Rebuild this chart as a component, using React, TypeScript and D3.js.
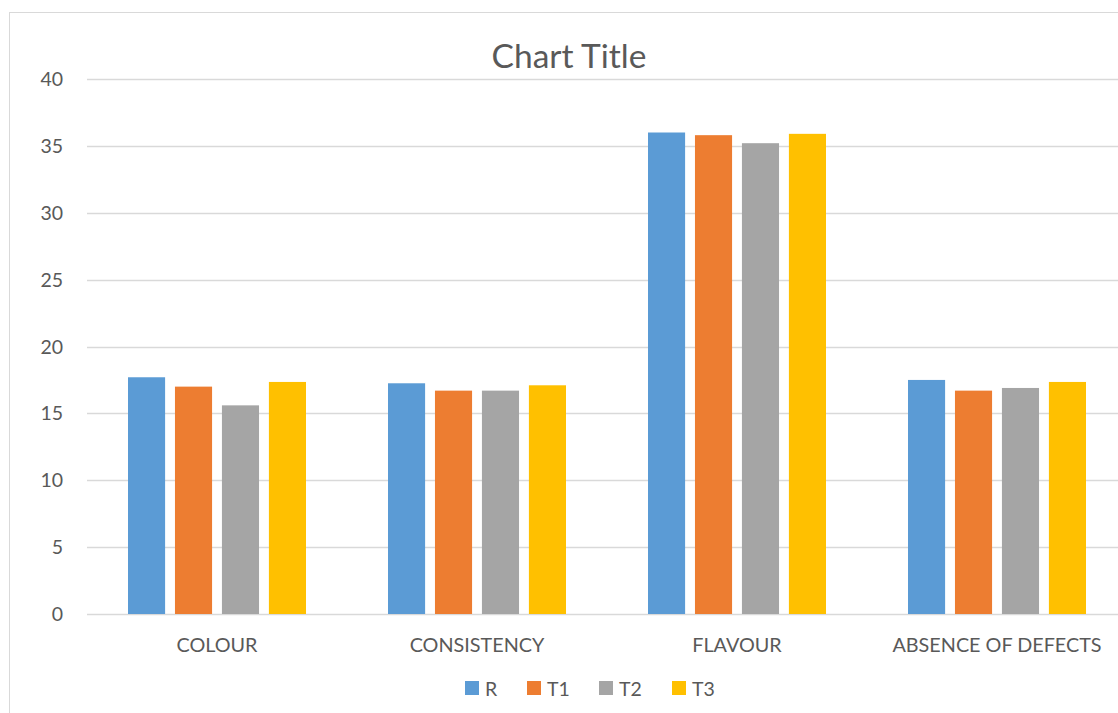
import React, { useEffect, useRef } from "react";
import * as d3 from "d3";

const categories = ["COLOUR", "CONSISTENCY", "FLAVOUR", "ABSENCE OF DEFECTS"];
const seriesNames = ["R", "T1", "T2", "T3"];
const valuesR = [17.7, 17.25, 36.0, 17.5];
const valuesT1 = [17.0, 16.7, 35.8, 16.7];
const valuesT2 = [15.6, 16.7, 35.2, 16.9];
const valuesT3 = [17.35, 17.1, 35.9, 17.35];
const yTicks = [0, 5, 10, 15, 20, 25, 30, 35, 40];
const colors = ["#5B9BD5", "#ED7D31", "#A5A5A5", "#FFC000"];

export default function App() {
  const ref = useRef<SVGSVGElement>(null);

  useEffect(() => {
    const width = 1118;
    const height = 713;
    const font = "Lato, 'Open Sans', sans-serif";
    const margin = { top: 79, left: 87, bottom: 99, right: -9 };
    const iwidth = width - margin.left - margin.right;
    const iheight = height - margin.top - margin.bottom;

    const svg = d3.select(ref.current);
    svg.selectAll("*").remove();
    svg.attr("width", width).attr("height", height);

    svg
      .append("rect")
      .attr("x", 9.5)
      .attr("y", 12.5)
      .attr("width", 1130)
      .attr("height", 720)
      .attr("fill", "white")
      .attr("stroke", "#d9d9d9");

    svg
      .append("text")
      .attr("x", 569)
      .attr("y", 68)
      .attr("text-anchor", "middle")
      .style("font-family", font)
      .style("font-size", "33.5px")
      .style("fill", "#595959")
      .text("Chart Title");

    const g = svg
      .append("g")
      .attr("transform", `translate(${margin.left},${margin.top})`);

    const y = d3.scaleLinear().domain([0, 40]).range([iheight, 0]);
    const x0 = d3
      .scaleBand()
      .domain(categories)
      .range([0, iwidth])
      .paddingInner(0)
      .paddingOuter(0);
    const groupPad = 41;
    const x1 = d3
      .scaleBand()
      .domain(seriesNames)
      .range([groupPad, x0.bandwidth() - groupPad])
      .paddingInner(0.21)
      .paddingOuter(0);

    // gridlines
    g.selectAll("line.grid")
      .data(yTicks)
      .enter()
      .append("line")
      .attr("class", "grid")
      .attr("x1", 0)
      .attr("x2", iwidth)
      .attr("y1", (d) => Math.round(y(d)) + 0.5)
      .attr("y2", (d) => Math.round(y(d)) + 0.5)
      .attr("stroke", "#d9d9d9")
      .attr("stroke-width", 1.3);

    g.selectAll("text.ytick")
      .data(yTicks)
      .enter()
      .append("text")
      .attr("class", "ytick")
      .attr("x", -24)
      .attr("y", (d) => y(d) + 7)
      .attr("text-anchor", "end")
      .style("font-family", font)
      .style("font-size", "19.5px")
      .style("fill", "#595959")
      .text((d) => d);

    const table = seriesNames.map((name, i) => ({
      name,
      color: colors[i],
      values: [valuesR, valuesT1, valuesT2, valuesT3][i],
    }));

    table.forEach((s) => {
      g.selectAll(`rect.bar-${s.name}`)
        .data(categories.map((c, j) => ({ c, v: s.values[j] })))
        .enter()
        .append("rect")
        .attr("class", `bar-${s.name}`)
        .attr("x", (d) => (x0(d.c) ?? 0) + (x1(s.name) ?? 0))
        .attr("y", (d) => y(d.v))
        .attr("width", x1.bandwidth())
        .attr("height", (d) => iheight - y(d.v))
        .attr("fill", s.color);
    });

    g.selectAll("text.xtick")
      .data(categories)
      .enter()
      .append("text")
      .attr("class", "xtick")
      .attr("x", (d) => (x0(d) ?? 0) + x0.bandwidth() / 2)
      .attr("y", iheight + 38)
      .attr("text-anchor", "middle")
      .style("font-family", font)
      .style("font-size", "19.8px")
      .style("fill", "#595959")
      .text((d) => d);

    // legend
    const legendX = [465, 527, 599, 672];
    const legend = svg
      .selectAll("g.legend")
      .data(table)
      .enter()
      .append("g")
      .attr("class", "legend")
      .attr("transform", (d, i) => `translate(${legendX[i]},681)`);
    legend
      .append("rect")
      .attr("width", 14)
      .attr("height", 14)
      .attr("fill", (d) => d.color);
    legend
      .append("text")
      .attr("x", 20)
      .attr("y", 14.5)
      .style("font-family", font)
      .style("font-size", "19.5px")
      .style("fill", "#595959")
      .text((d) => d.name);
  }, []);

  return (
    <div style={{ position: "fixed", left: 0, top: 0 }}>
      <svg ref={ref} style={{ display: "block" }}></svg>
    </div>
  );
}
